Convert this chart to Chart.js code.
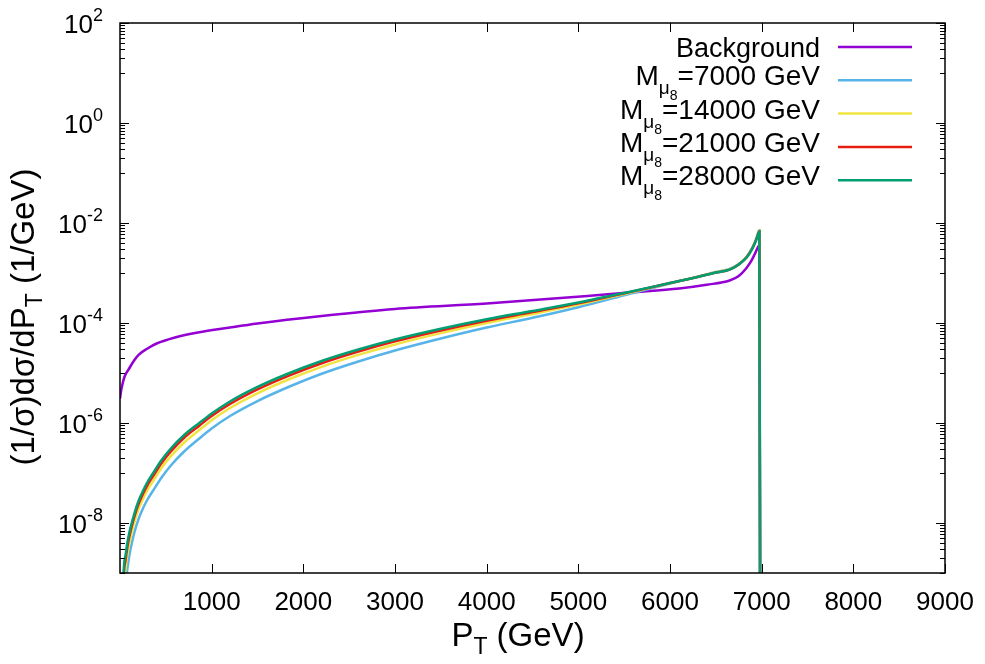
<!DOCTYPE html>
<html>
<head>
<meta charset="utf-8">
<script src="https://cdn.jsdelivr.net/npm/chart.js@4.4.1/dist/chart.umd.min.js"></script>
<style>
  html, body { margin: 0; padding: 0; background: #fff; }
</style>
</head>
<body>
<canvas id="ptChart" width="985" height="664"></canvas>
<script>
// transverse momentum points (GeV)
const bgPt = [0, 10, 20, 50, 100, 150, 200, 300, 400, 600, 850, 1200, 1500, 2200, 3000, 4000, 5100, 5550, 6100, 6400, 6650, 6750, 6830, 6890, 6925, 6950, 6964, 6975, 6985];
const sigPt = [20, 40, 60, 80, 100, 128, 160, 200, 250, 300, 362, 450, 550, 700, 865, 1000, 1200, 1500, 1850, 2200, 2600, 3000, 3500, 4000, 4500, 5000, 5500, 6000, 6300, 6500, 6650, 6750, 6836, 6890, 6927, 6950, 6964, 6975, 6985];

// (1/sigma) dsigma/dPT values (1/GeV)
const background = [3.09e-6, 4.17e-6, 5.25e-6, 8.51e-6, 1.23e-5, 1.74e-5, 2.29e-5, 3.09e-5, 3.89e-5, 5.13e-5, 6.46e-5, 8.13e-5, 9.77e-5, 1.38e-4, 1.91e-4, 2.45e-4, 3.47e-4, 4.07e-4, 4.9e-4, 5.82e-4, 7.08e-4, 8.71e-4, 1.23e-3, 1.78e-3, 2.4e-3, 3.02e-3, 3.39e-3, 3.55e-3, 1e-12];
const m7000 = [1e-11, 2.0e-10, 5.62e-10, 1.2e-9, 2.14e-9, 3.89e-9, 6.76e-9, 1.17e-8, 1.95e-8, 2.95e-8, 4.47e-8, 7.94e-8, 1.38e-7, 2.69e-7, 4.9e-7, 7.76e-7, 1.38e-6, 2.75e-6, 5.37e-6, 9.66e-6, 1.7e-5, 2.82e-5, 4.9e-5, 8.13e-5, 1.27e-4, 2.07e-4, 3.59e-4, 6.17e-4, 8.41e-4, 1.05e-3, 1.2e-3, 1.51e-3, 2.11e-3, 3.02e-3, 4.17e-3, 5.43e-3, 6.61e-3, 7.24e-3, 1e-12];
const m14000 = [1e-11, 4.84e-10, 1.2e-9, 2.32e-9, 3.83e-9, 6.53e-9, 1.09e-8, 1.85e-8, 3.03e-8, 4.59e-8, 6.95e-8, 1.24e-7, 2.12e-7, 4.08e-7, 7.24e-7, 1.14e-6, 2.0e-6, 3.93e-6, 7.59e-6, 1.33e-5, 2.3e-5, 3.72e-5, 6.27e-5, 1.0e-4, 1.51e-4, 2.33e-4, 3.8e-4, 6.24e-4, 8.41e-4, 1.04e-3, 1.19e-3, 1.5e-3, 2.09e-3, 2.95e-3, 4.07e-3, 5.31e-3, 6.46e-3, 7.08e-3, 1e-12];
const m21000 = [1e-11, 7.59e-10, 1.78e-9, 3.25e-9, 5.15e-9, 8.51e-9, 1.4e-8, 2.34e-8, 3.8e-8, 5.75e-8, 8.71e-8, 1.55e-7, 2.64e-7, 5.06e-7, 8.85e-7, 1.38e-6, 2.4e-6, 4.7e-6, 8.99e-6, 1.57e-5, 2.69e-5, 4.3e-5, 7.11e-5, 1.11e-4, 1.65e-4, 2.48e-4, 3.91e-4, 6.31e-4, 8.32e-4, 1.02e-3, 1.17e-3, 1.48e-3, 2.07e-3, 2.92e-3, 4.03e-3, 5.19e-3, 6.24e-3, 6.84e-3, 1e-12];
const m28000 = [1e-11, 1e-9, 2.24e-9, 3.98e-9, 6.17e-9, 1e-8, 1.62e-8, 2.69e-8, 4.37e-8, 6.61e-8, 1e-7, 1.78e-7, 3.02e-7, 5.75e-7, 1e-6, 1.55e-6, 2.69e-6, 5.25e-6, 1e-5, 1.74e-5, 2.95e-5, 4.68e-5, 7.67e-5, 1.19e-4, 1.74e-4, 2.57e-4, 3.98e-4, 6.31e-4, 8.32e-4, 1.02e-3, 1.17e-3, 1.48e-3, 2.04e-3, 2.88e-3, 3.98e-3, 5.13e-3, 6.17e-3, 6.76e-3, 1e-12];

const massLabels = ['7000', '14000', '21000', '28000'];
const seriesColors = ['#9400d3', '#56b4e9', '#f0e442', '#e51e10', '#009e73'];
const xTicks = [1000, 2000, 3000, 4000, 5000, 6000, 7000, 8000, 9000];
const yExponents = [2, 0, -2, -4, -6, -8];

const FONT = '"Liberation Sans", Arial, sans-serif';

function toPoints(xs, ys) {
    return xs.map((x, i) => ({ x: x, y: ys[i] }));
}

const allSeries = [
    { label: 'Background', data: toPoints(bgPt, background) },
    { label: 'M=' + massLabels[0] + ' GeV', data: toPoints(sigPt, m7000) },
    { label: 'M=' + massLabels[1] + ' GeV', data: toPoints(sigPt, m14000) },
    { label: 'M=' + massLabels[2] + ' GeV', data: toPoints(sigPt, m21000) },
    { label: 'M=' + massLabels[3] + ' GeV', data: toPoints(sigPt, m28000) }
];

const datasets = allSeries.map((s, i) => ({
    label: s.label,
    data: s.data,
    borderColor: seriesColors[i],
    backgroundColor: seriesColors[i],
    borderWidth: 2.5,
    pointRadius: 0,
    fill: false,
    cubicInterpolationMode: 'monotone',
    order: allSeries.length - i
}));

// text made of pieces: [text, size, dy]
function pieceWidth(ctx, pieces) {
    let w = 0;
    pieces.forEach(p => {
        ctx.font = p[1] + 'px ' + FONT;
        w += ctx.measureText(p[0]).width;
    });
    return w;
}
function drawPieces(ctx, pieces, x, y) {
    let cx = x;
    pieces.forEach(p => {
        ctx.font = p[1] + 'px ' + FONT;
        ctx.fillText(p[0], cx, y + p[2]);
        cx += ctx.measureText(p[0]).width;
    });
}

const gnuplotFrame = {
    id: 'gnuplotFrame',
    afterDatasetsDraw(chart) {
        const ctx = chart.ctx;
        const a = chart.chartArea;
        const x = chart.scales.x;
        const y = chart.scales.y;
        ctx.save();
        ctx.strokeStyle = '#000';
        ctx.fillStyle = '#000';
        ctx.textBaseline = 'alphabetic';
        ctx.textAlign = 'left';

        function seg(x1, y1, x2, y2) {
            ctx.beginPath();
            ctx.moveTo(x1, y1);
            ctx.lineTo(x2, y2);
            ctx.stroke();
        }

        // ticks, inward on all four sides
        ctx.lineWidth = 1;
        xTicks.forEach(v => {
            const px = Math.round(x.getPixelForValue(v)) + 0.5;
            seg(px, a.bottom, px, a.bottom - 9);
            seg(px, a.top, px, a.top + 9);
        });
        yExponents.forEach(e => {
            const py = Math.round(y.getPixelForValue(Math.pow(10, e))) + 0.5;
            seg(a.left, py, a.left + 9, py);
            seg(a.right, py, a.right - 9, py);
            for (let k = 1; k <= 9; k++) {
                const v = k * Math.pow(10, e - 1);
                if (v < y.min || v > y.max) continue;
                const q = Math.round(y.getPixelForValue(v)) + 0.5;
                seg(a.left, q, a.left + 5, q);
                seg(a.right, q, a.right - 5, q);
            }
        });

        // border
        ctx.lineWidth = 1.5;
        ctx.strokeRect(a.left, a.top, a.right - a.left, a.bottom - a.top);

        // x tick labels
        ctx.font = '26px ' + FONT;
        ctx.textAlign = 'center';
        xTicks.forEach(v => {
            ctx.fillText(String(v), x.getPixelForValue(v), a.bottom + 37);
        });
        ctx.textAlign = 'left';

        // y tick labels 10^e
        yExponents.forEach(e => {
            const py = y.getPixelForValue(Math.pow(10, e));
            const pieces = [['10', 26, 0], [String(e), 18, -12]];
            const w = pieceWidth(ctx, pieces);
            drawPieces(ctx, pieces, a.left - 17 - w, py + 10);
        });

        // x title
        const xt = [['P', 33, 0], ['T', 23, 8], [' (GeV)', 33, 0]];
        const xw = pieceWidth(ctx, xt);
        drawPieces(ctx, xt, 518 - xw / 2, a.bottom + 73);

        // y title (rotated)
        const yt = [['(1/\u03c3)d\u03c3/dP', 33, 0], ['T', 23, 8], [' (1/GeV)', 33, 0]];
        const yw = pieceWidth(ctx, yt);
        ctx.save();
        ctx.translate(34, 317);
        ctx.rotate(-Math.PI / 2);
        drawPieces(ctx, yt, -yw / 2, 0);
        ctx.restore();

        // legend
        const textRight = 820;
        const lineX1 = 838, lineX2 = 912;
        chart.data.datasets.forEach((ds, i) => {
            const rowY = 47 + i * 33.3;
            let pieces, base;
            if (i === 0) {
                pieces = [['Background', 27, 0]];
                base = rowY + 10;
            } else {
                pieces = [['M', 28, 0], ['\u03bc', 19, 9], ['8', 14, 15], ['=' + massLabels[i - 1] + ' GeV', 28, 0]];
                base = rowY + 5;
            }
            const w = pieceWidth(ctx, pieces);
            drawPieces(ctx, pieces, textRight - w, base);
            ctx.strokeStyle = ds.borderColor;
            ctx.lineWidth = 2.5;
            seg(lineX1, rowY, lineX2, rowY);
        });

        ctx.restore();
    }
};

const ctx = document.getElementById('ptChart').getContext('2d');
const ptChart = new Chart(ctx, {
    type: 'line',
    data: { datasets: datasets },
    options: {
        responsive: false,
        animation: false,
        devicePixelRatio: 1,
        layout: { padding: { left: 120, top: 23, right: 40, bottom: 91 } },
        plugins: {
            legend: { display: false },
            tooltip: { enabled: false }
        },
        scales: {
            x: { type: 'linear', min: 0, max: 9000, display: false },
            y: { type: 'logarithmic', min: 1e-9, max: 1e2, display: false }
        }
    },
    plugins: [gnuplotFrame]
});
</script>
</body>
</html>
